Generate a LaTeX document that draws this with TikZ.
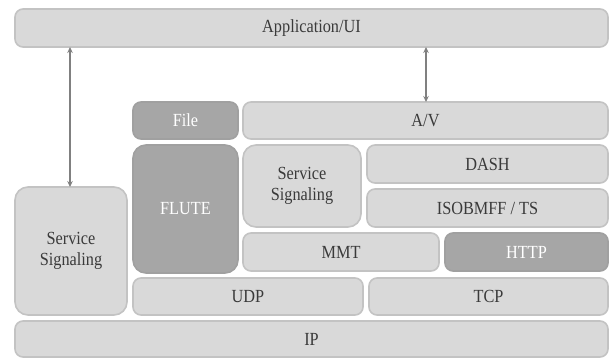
\documentclass[tikz,border=0pt]{standalone}
\usepackage{fontspec}
\setmainfont[FakeStretch=0.88]{Liberation Serif}
\usetikzlibrary{arrows.meta}
\definecolor{lightfill}{HTML}{D9D9D9}
\definecolor{lightedge}{HTML}{C3C3C3}
\definecolor{darkfill}{HTML}{A6A6A6}
\definecolor{darkedge}{HTML}{A0A0A0}
\definecolor{txt}{HTML}{3A3A3A}
\definecolor{arrowgray}{HTML}{808080}
\begin{document}
\begin{tikzpicture}[x=1pt,y=-1pt,
  layer/.style={draw=lightedge, fill=lightfill, line width=1.6pt, rounded corners=8pt,
    text=txt, font=\fontsize{18.5}{21.5}\selectfont, align=center, inner sep=0pt, outer sep=0pt},
  darklayer/.style={layer, draw=darkedge, fill=darkfill, text=white},
  bigr/.style={rounded corners=13pt},
  arr/.style={draw=arrowgray, line width=1.6pt, {Stealth[length=6pt,width=5.5pt]}-{Stealth[length=6pt,width=5.5pt]}}]
\useasboundingbox (0,0) rectangle (613,360);
\node[layer, minimum width=593pt, minimum height=38pt] (app) at (311.5,28) {Application/UI};
\node[darklayer, minimum width=105pt, minimum height=37pt] (file) at (185.5,120.5) {File};
\node[layer, minimum width=365pt, minimum height=37pt] (av) at (425.5,120.5) {A/V};
\node[darklayer, bigr, minimum width=105pt, minimum height=128pt] (flute) at (185.5,209) {FLUTE};
\node[layer, bigr, minimum width=118pt, minimum height=82pt] (ssm) at (302,186) {Service\\Signaling};
\node[layer, minimum width=241pt, minimum height=38pt] (dash) at (487.5,164) {DASH};
\node[layer, minimum width=241pt, minimum height=38pt] (iso) at (487.5,208) {ISOBMFF / TS};
\node[layer, minimum width=196pt, minimum height=38pt] (mmt) at (341,252) {MMT};
\node[darklayer, minimum width=163pt, minimum height=38pt] (http) at (526.5,252) {HTTP};
\node[layer, bigr, minimum width=112pt, minimum height=128pt] (ssl) at (71,251) {Service\\Signaling};
\node[layer, minimum width=230pt, minimum height=37pt] (udp) at (248,296.5) {UDP};
\node[layer, minimum width=239pt, minimum height=37pt] (tcp) at (488.5,296.5) {TCP};
\node[layer, minimum width=593pt, minimum height=36pt] (ip) at (311.5,339) {IP};
\draw[arr] ([xshift=-1pt]ssl.north) -- ([xshift=-1pt]ssl.north |- app.south);
\draw[arr] ([xshift=0.5pt]av.north) -- ([xshift=0.5pt]av.north |- app.south);
\end{tikzpicture}
\end{document}
